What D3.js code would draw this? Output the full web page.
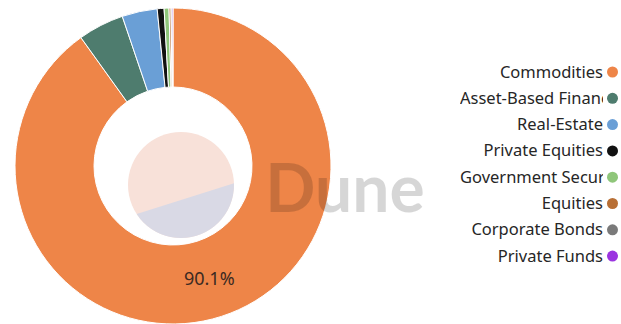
<!DOCTYPE html>
<html>
<head>
<meta charset="utf-8">
<script src="https://cdn.jsdelivr.net/npm/d3@7"></script>
<style>
  html, body { margin: 0; padding: 0; background: #fff; }
  svg { display: block; }
</style>
</head>
<body>
<svg id="chart" width="621" height="324"></svg>
<script>
// Asset class shares (%)
const categories = ["Commodities", "Asset-Based Finance", "Real-Estate", "Private Equities",
  "Government Securities", "Equities", "Corporate Bonds", "Private Funds"];
const shares = [90.1, 4.7, 3.6, 0.7, 0.5, 0.2, 0.1, 0.1];
const colors = ["#ee8548", "#4e7c6e", "#6a9fd6", "#111111", "#8fc67a", "#b86f35", "#7a7a7a", "#9b35e0"];

const svg = d3.select("#chart");
const cx = 173, cy = 166, outerR = 158, innerR = 79;

const data = categories.map((c, i) => ({ name: c, value: shares[i], color: colors[i] }));
const pie = d3.pie().value(d => d.value).sort(null);
const arc = d3.arc().innerRadius(innerR).outerRadius(outerR);
const arcs = pie(data);

const g = svg.append("g").attr("transform", `translate(${cx},${cy})`);

// faint disk inside the hole
const ghost = svg.append("g").attr("transform", "translate(181,185)");
ghost.append("circle").attr("r", 53).attr("fill", "#f8e1d9");
ghost.append("clipPath").attr("id", "ghostClip")
  .append("circle").attr("r", 53);
ghost.append("path")
  .attr("clip-path", "url(#ghostClip)")
  .attr("d", "M-60,34 L60,-4 L60,60 L-60,60 Z")
  .attr("fill", "#d9d9e5");

g.selectAll("path.slice").data(arcs).join("path")
  .attr("class", "slice")
  .attr("d", arc)
  .attr("fill", d => d.data.color)
  .attr("stroke", "#fff")
  .attr("stroke-width", 1);

// label for the dominant slice
const big = arcs[0];
const [lx, ly] = arc.centroid(big);
g.append("text")
  .attr("x", lx).attr("y", ly + 6)
  .attr("text-anchor", "middle")
  .attr("font-family", "Noto Sans, sans-serif")
  .attr("font-size", 18)
  .attr("fill", "#3b2a22")
  .text(d3.format(".1f")(big.value) + "%");

// watermark
svg.append("text")
  .attr("x", 345).attr("y", 212)
  .attr("text-anchor", "middle")
  .attr("font-family", "Lato, sans-serif")
  .attr("font-weight", 700)
  .attr("font-size", 66)
  .attr("fill", "#000")
  .attr("fill-opacity", 0.16)
  .text("Dune");

// legend
const legX0 = 460, legX1 = 603, legY0 = 72, legStep = 26.3;
svg.append("clipPath").attr("id", "legClip")
  .append("rect").attr("x", legX0).attr("y", 0).attr("width", legX1 - legX0).attr("height", 324);
const leg = svg.append("g");
data.forEach((d, i) => {
  const y = legY0 + i * legStep;
  const t = leg.append("text")
    .attr("clip-path", "url(#legClip)")
    .attr("y", y + 5.5)
    .attr("font-family", "Noto Sans, sans-serif")
    .attr("font-size", 16.5)
    .attr("fill", "#262626")
    .text(d.name);
  const w = t.node().getComputedTextLength();
  if (w > legX1 - legX0) t.attr("x", legX0);
  else t.attr("x", legX1).attr("text-anchor", "end");
  leg.append("circle").attr("cx", 612.5).attr("cy", y).attr("r", 5.5).attr("fill", d.color);
});
</script>
</body>
</html>
